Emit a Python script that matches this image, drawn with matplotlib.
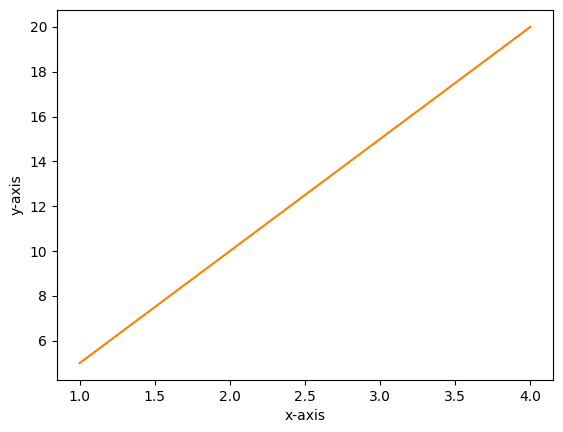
import matplotlib
matplotlib.use('Agg')
import matplotlib.pyplot as plt

x = [1, 2, 3, 4]
y = [5, 10, 15, 20]

fig = plt.figure(figsize=(5.63, 4.32), dpi=100)
ax = fig.add_axes([57 / 563, 1 - 380 / 432, 496 / 563, 370 / 432])
ax.plot(x, y, color='#ff8000')
ax.set_xlabel('x-axis')
ax.set_ylabel('y-axis')
fig.savefig('out.png', dpi=100)
